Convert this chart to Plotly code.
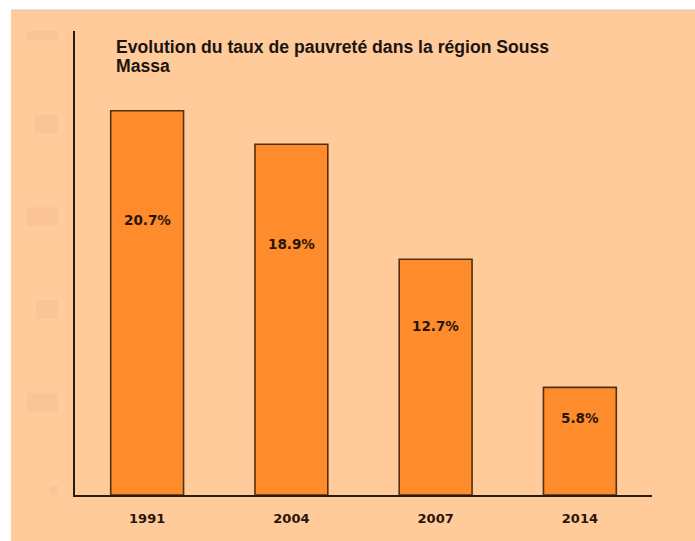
import plotly.graph_objects as go

years = ["1991", "2004", "2007", "2014"]
rates = [20.7, 18.9, 12.7, 5.8]
labels = ["20.7%", "18.9%", "12.7%", "5.8%"]
title_line1 = "Evolution du taux de pauvreté dans la région Souss"
title_line2 = "Massa"

# faint ghost tick marks on the left (blurred tick labels)
ghost_ticks = [25, 20, 15, 10, 5, 0]
ghost_widths = [31, 23, 31, 22, 31, 8]

W, H = 695, 541
ML, MR, MT, MB = 75, 43, 31, 46
PW = W - ML - MR
PH = H - MT - MB

BG = "#FFCB9B"

fig = go.Figure()
fig.add_trace(go.Bar(
    x=years, y=rates,
    marker=dict(color="#FF8C2C", line=dict(color="#52300f", width=1.6)),
    width=0.505,
    hoverinfo="skip",
))

def px_x(px):
    return (px - ML) / PW

def px_y(py):
    return (PH + MT - py) / PH

shapes = []
shapes.append(dict(type="rect", xref="paper", yref="paper",
                   x0=px_x(11), x1=px_x(W + 5), y0=px_y(H + 5), y1=px_y(10),
                   fillcolor=BG, line=dict(width=0), layer="below"))
shapes.append(dict(type="line", xref="paper", yref="paper",
                   x0=px_x(11), x1=px_x(W + 5), y0=px_y(10), y1=px_y(10),
                   line=dict(color="#D9C2A8", width=1), layer="below"))
for t, w in zip(ghost_ticks, ghost_widths):
    shapes.append(dict(type="rect", xref="paper", yref="y",
                       x0=px_x(58 - w), x1=px_x(58),
                       y0=t - 0.5, y1=t + 0.5,
                       fillcolor="#F9C096", line=dict(width=0), layer="below", opacity=0.7))

annotations = []
for i, (v, lab) in enumerate(zip(rates, labels)):
    annotations.append(dict(x=i, y=v * 0.715, xref="x", yref="y", text=lab,
                            showarrow=False,
                            font=dict(family="DejaVu Sans", size=13.5, color="#2a1608", weight="bold")))
tfont = dict(family="Liberation Sans", size=17.6, color="#1c1410", weight="bold")
annotations.append(dict(x=px_x(114), y=px_y(47), xref="paper", yref="paper",
                        xanchor="left", yanchor="middle", showarrow=False,
                        text=title_line1, font=tfont))
annotations.append(dict(x=px_x(114), y=px_y(66.5), xref="paper", yref="paper",
                        xanchor="left", yanchor="middle", showarrow=False,
                        text=title_line2, font=tfont))

fig.update_layout(
    width=W, height=H,
    margin=dict(l=ML, r=MR, t=MT, b=MB, pad=0),
    paper_bgcolor="white",
    plot_bgcolor=BG,
    showlegend=False,
    shapes=shapes,
    annotations=annotations,
    xaxis=dict(type="category", range=[-0.5, 3.5], showline=True, linecolor="#2a1a0c", linewidth=2,
               showgrid=False, zeroline=False, ticks="", ticklabelstandoff=10,
               tickfont=dict(family="DejaVu Sans", size=13, color="#2a1608", weight="bold")),
    yaxis=dict(range=[0, 25], showline=True, linecolor="#2a1a0c", linewidth=2,
               showgrid=False, zeroline=False, showticklabels=False, ticks=""),
)

fig.write_html("out.html",
               config={"displayModeBar": False, "staticPlot": True},
               post_script="document.body.style.margin='0';document.body.style.overflow='hidden';")
